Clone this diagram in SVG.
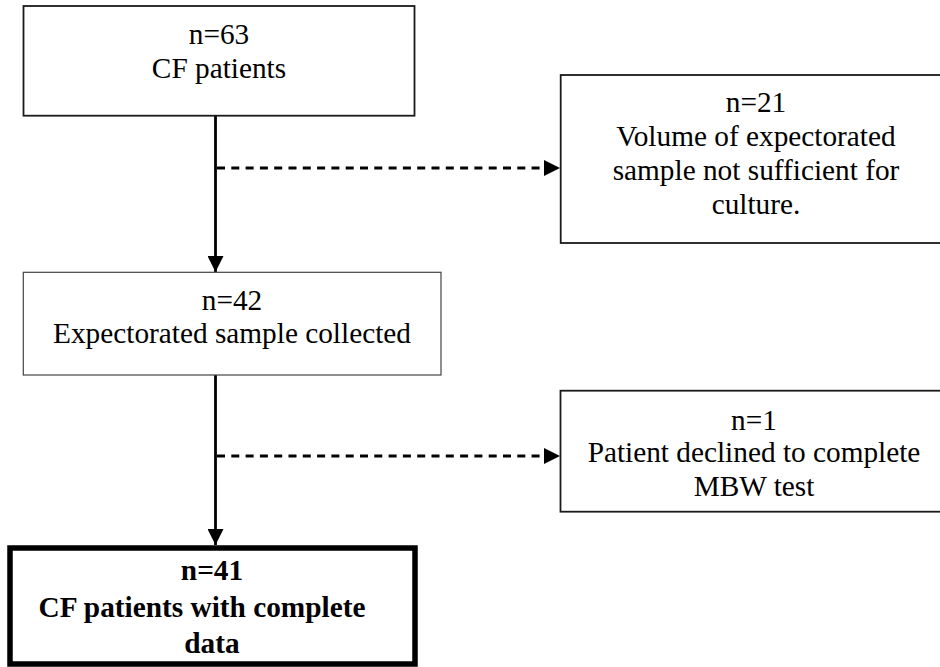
<svg xmlns="http://www.w3.org/2000/svg" width="940" height="667" viewBox="0 0 940 667">
  <defs>
    <style>
      .box { fill: #ffffff; stroke: #1a1a1a; stroke-width: 1.8; }
      .thin { stroke: #444444; stroke-width: 1.2; }
      .bold-box { fill: #ffffff; stroke: #000000; stroke-width: 5.5; }
      .t { font-family: "Liberation Serif", "Times New Roman", serif; font-size: 29.3px; fill: #000000; text-anchor: middle; }
      .tb { font-family: "Liberation Serif", "Times New Roman", serif; font-size: 29.3px; font-weight: bold; fill: #000000; text-anchor: middle; }
      .solid { fill: none; stroke: #000000; stroke-width: 2.8; }
      .dash { fill: none; stroke: #000000; stroke-width: 2.8; stroke-dasharray: 8 6.3; }
    </style>
    <marker id="ah" markerUnits="userSpaceOnUse" markerWidth="16" markerHeight="16" viewBox="0 0 16 16" refX="16" refY="8" orient="auto">
      <path d="M0,0 L16,8 L0,16 Z" fill="#000000"/>
    </marker>
  </defs>

  <g id="connectors">
    <line class="solid" x1="215.5" y1="116" x2="215.5" y2="272" marker-end="url(#ah)"/>
    <line class="dash" x1="217" y1="168" x2="560" y2="168" marker-end="url(#ah)"/>
    <line class="solid" x1="215.5" y1="375" x2="215.5" y2="545" marker-end="url(#ah)"/>
    <line class="dash" x1="217" y1="456" x2="560" y2="456" marker-end="url(#ah)"/>
  </g>

  <g id="node-n63">
    <rect class="box" x="23.5" y="6" width="391" height="109.7"/>
    <text class="t" x="219" y="44.3">n=63</text>
    <text class="t" x="219" y="78.3">CF patients</text>
  </g>

  <g id="node-n21">
    <rect class="box" x="560.7" y="75" width="392" height="168"/>
    <text class="t" x="756" y="111.7">n=21</text>
    <text class="t" x="756" y="145.7">Volume of expectorated</text>
    <text class="t" x="756" y="180">sample not sufficient for</text>
    <text class="t" x="756" y="214">culture.</text>
  </g>

  <g id="node-n42">
    <rect class="box thin" x="23.3" y="272.3" width="417.7" height="102.7"/>
    <text class="t" x="232" y="310">n=42</text>
    <text class="t" x="232" y="343">Expectorated sample collected</text>
  </g>

  <g id="node-n1">
    <rect class="box" x="560.5" y="390.7" width="388" height="121"/>
    <text class="t" x="754" y="430">n=1</text>
    <text class="t" x="754" y="461.7">Patient declined to complete</text>
    <text class="t" x="754" y="495.7">MBW test</text>
  </g>

  <g id="node-n41">
    <rect class="bold-box" x="10" y="548" width="405" height="116"/>
    <text class="tb" x="212" y="580">n=41</text>
    <text class="tb" x="202" y="616.7">CF patients with complete</text>
    <text class="tb" x="212" y="653.3">data</text>
  </g>
</svg>
